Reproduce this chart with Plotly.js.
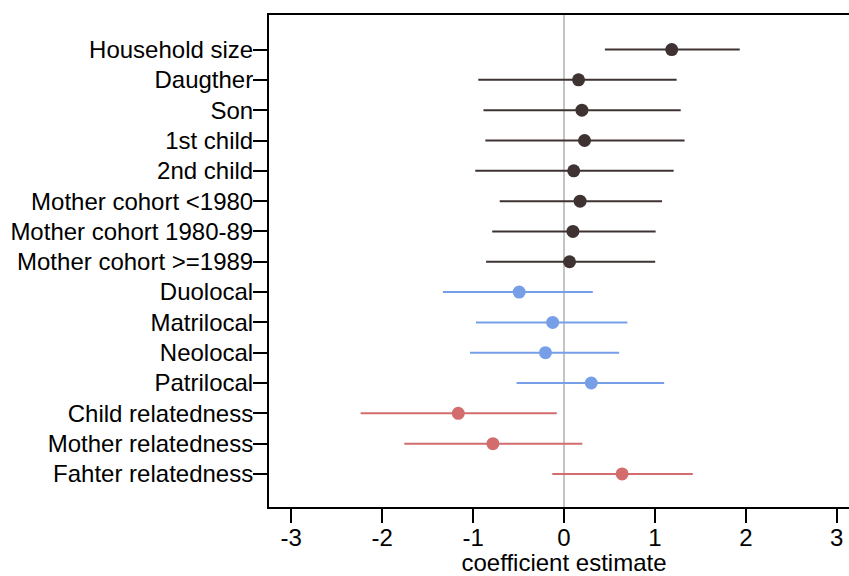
<!DOCTYPE html>
<html><head><meta charset="utf-8">
<script src="https://cdn.plot.ly/plotly-3.0.1.min.js"></script>
<style>html,body{margin:0;padding:0;overflow:hidden;background:#fff}#chart{width:859px;height:576px}</style>
</head><body><div id="chart"></div>
<script>
const labels = ["Household size","Daugther","Son","1st child","2nd child","Mother cohort <1980","Mother cohort 1980-89","Mother cohort >=1989","Duolocal","Matrilocal","Neolocal","Patrilocal","Child relatedness","Mother relatedness","Fahter relatedness"];
const estimate = [1.185,0.160,0.197,0.226,0.107,0.177,0.098,0.061,-0.493,-0.125,-0.204,0.300,-1.163,-0.782,0.639];
const lower    = [0.450,-0.943,-0.886,-0.865,-0.976,-0.707,-0.790,-0.857,-1.332,-0.968,-1.034,-0.522,-2.237,-1.757,-0.129];
const upper    = [1.933,1.239,1.284,1.326,1.206,1.078,1.008,1.003,0.317,0.697,0.606,1.102,-0.079,0.201,1.417];
const groups   = [[0,8],[8,12],[12,15]];
const colors   = ["#3e3232","#779fe8","#d36d6d"];
const xTicks = [-3,-2,-1,0,1,2,3];

const traces = groups.map((g,k)=>{
  const idx=[]; for(let i=g[0];i<g[1];i++) idx.push(i);
  return {
    type:'scatter', mode:'markers',
    x: idx.map(i=>estimate[i]), y: idx,
    marker:{color:colors[k], size:13},
    error_x:{type:'data', symmetric:false,
      array: idx.map(i=>upper[i]-estimate[i]),
      arrayminus: idx.map(i=>estimate[i]-lower[i]),
      color:colors[k], thickness:2, width:0},
    hoverinfo:'x+y', showlegend:false
  };
});

Plotly.newPlot('chart', traces, {
  width:859, height:576,
  margin:{l:269, r:0, t:15, b:69},
  paper_bgcolor:'#fff', plot_bgcolor:'#fff',
  font:{family:'"Liberation Sans", Arial, sans-serif', size:24, color:'#000'},
  xaxis:{range:[-3.245, 3.245], tickvals:xTicks, ticktext:xTicks.map(String),
    showgrid:false, zeroline:true, zerolinecolor:'#c4c4c4', zerolinewidth:1.5,
    showline:true, linecolor:'#000', linewidth:2, mirror:true,
    ticks:'outside', ticklen:14, tickwidth:2, tickcolor:'#000',
    tickfont:{size:24}, ticklabelstandoff:-6,
    title:{text:'coefficient estimate', font:{size:24}, standoff:0}},
  yaxis:{range:[15.09,-1.14], tickvals:labels.map((_,i)=>i), ticktext:labels,
    showgrid:false, zeroline:false,
    showline:true, linecolor:'#000', linewidth:2, mirror:true,
    ticks:'outside', ticklen:14, tickwidth:2, tickcolor:'#000', tickfont:{size:24},
    ticklabelstandoff:-5}
}, {displayModeBar:false, staticPlot:true});
</script></body></html>
